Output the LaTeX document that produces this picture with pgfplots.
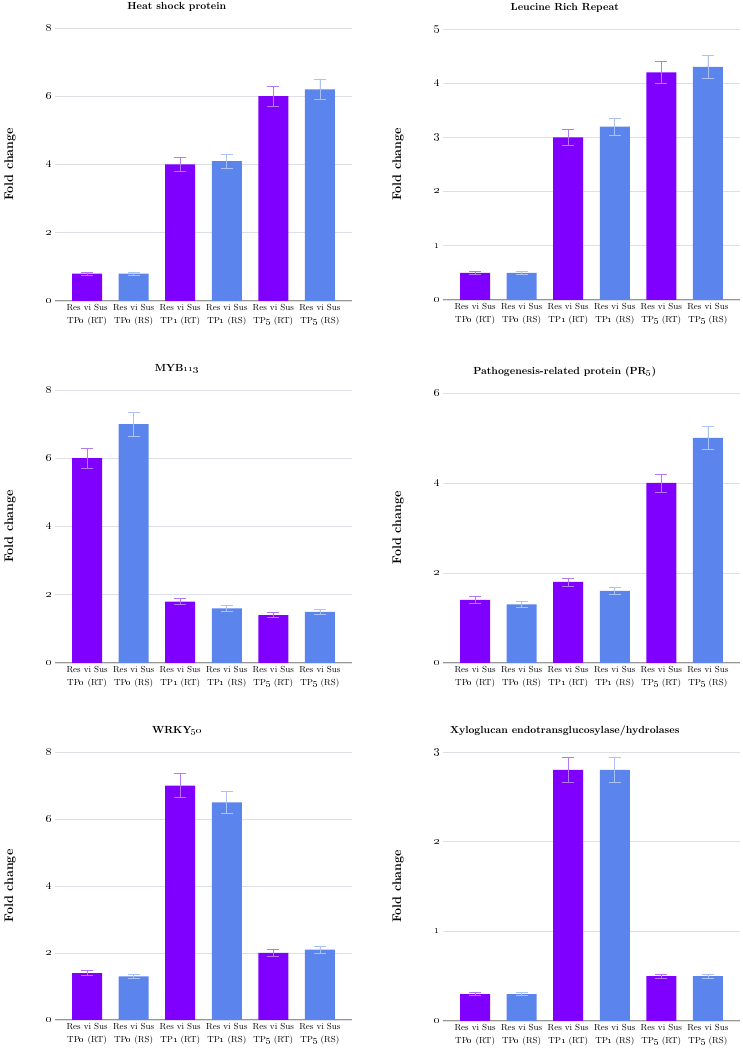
\documentclass[border=0pt]{standalone}
\usepackage{pgfplots}
\pgfplotsset{compat=1.18}
\definecolor{barpur}{RGB}{127,0,255}
\definecolor{barblu}{RGB}{91,133,236}
\definecolor{errpur}{RGB}{180,120,240}
\definecolor{errblu}{RGB}{172,194,245}
\definecolor{gridc}{RGB}{222,222,230}
\definecolor{basec}{RGB}{150,150,150}
\newcommand{\os}[1]{\oldstylenums{#1}}

\pgfplotsset{
  panel/.style={
    scale only axis, width=297pt,
    ybar, bar width=30pt, bar shift=0pt,
    xmin=-0.69, xmax=5.69, ymin=0,
    xtick={0,1,2,3,4,5},
    xticklabels={{Res vi Sus\\TP\os{0} (RT)},{Res vi Sus\\TP\os{0} (RS)},
                 {Res vi Sus\\TP\os{1} (RT)},{Res vi Sus\\TP\os{1} (RS)},
                 {Res vi Sus\\TP\os{5} (RT)},{Res vi Sus\\TP\os{5} (RS)}},
    xticklabel style={align=center, font=\fontsize{8.8}{12.5}\selectfont},
    yticklabel style={font=\fontsize{11}{13}\selectfont\bfseries},
    major tick length=0pt,
    axis x line*=bottom, axis y line*=left,
    x axis line style={draw=basec, line width=1pt, -},
    y axis line style={draw=none},
    ymajorgrids, grid style={draw=gridc, line width=0.8pt},
    ylabel={Fold change},
    ylabel style={at={(axis description cs:-0.1515,0.5)}, anchor=center,
                  font=\fontsize{12.5}{14}\selectfont\bfseries},
    title style={at={(axis description cs:0.41,1)}, anchor=center, yshift=15pt,
                 font=\fontsize{10.3}{12}\selectfont\bfseries},
    anchor=south west,
  },
  pur/.style={fill=barpur, draw=none,
    error bars/.cd, y dir=both, y explicit,
    error bar style={draw=errpur, line width=0.7pt},
    error mark options={rotate=90, mark size=6pt, draw=errpur, line width=0.7pt}},
  blu/.style={fill=barblu, draw=none,
    error bars/.cd, y dir=both, y explicit,
    error bar style={draw=errblu, line width=0.7pt},
    error mark options={rotate=90, mark size=6pt, draw=errblu, line width=0.7pt}},
}

\begin{document}
\begin{tikzpicture}
\useasboundingbox (0pt,0pt) rectangle (742pt,1048pt);

% Heat shock protein
\begin{axis}[panel, at={(55pt,747pt)}, height=273pt, ymax=8,
  ytick={0,2,4,6,8}, yticklabels={\os{0},\os{2},\os{4},\os{6},\os{8}},
  title={Heat shock protein}]
\addplot[pur] table[x=x, y=y, y error=e] {
x y e
0 0.8 0.04
2 4.0 0.2
4 6.0 0.3
};
\addplot[blu] table[x=x, y=y, y error=e] {
x y e
1 0.8 0.04
3 4.1 0.2
5 6.2 0.3
};
\end{axis}

% Leucine Rich Repeat
\begin{axis}[panel, at={(443pt,748pt)}, height=271pt, ymax=5,
  ytick={0,1,2,3,4,5}, yticklabels={\os{0},\os{1},\os{2},\os{3},\os{4},\os{5}},
  title={Leucine Rich Repeat}]
\addplot[pur] table[x=x, y=y, y error=e] {
x y e
0 0.5 0.025
2 3.0 0.15
4 4.2 0.21
};
\addplot[blu] table[x=x, y=y, y error=e] {
x y e
1 0.5 0.025
3 3.2 0.16
5 4.3 0.21
};
\end{axis}

% MYB113
\begin{axis}[panel, at={(55pt,385pt)}, height=273pt, ymax=8,
  ytick={0,2,4,6,8}, yticklabels={\os{0},\os{2},\os{4},\os{6},\os{8}},
  title={MYB\os{113}}]
\addplot[pur] table[x=x, y=y, y error=e] {
x y e
0 6.0 0.3
2 1.8 0.09
4 1.4 0.07
};
\addplot[blu] table[x=x, y=y, y error=e] {
x y e
1 7.0 0.35
3 1.6 0.08
5 1.5 0.075
};
\end{axis}

% Pathogenesis-related protein (PR5)
\begin{axis}[panel, at={(443pt,385pt)}, height=270pt, ymax=6,
  ytick={0,2,4,6}, yticklabels={\os{0},\os{2},\os{4},\os{6}},
  title={Pathogenesis-related protein (PR\os{5})}]
\addplot[pur] table[x=x, y=y, y error=e] {
x y e
0 1.4 0.07
2 1.8 0.09
4 4.0 0.2
};
\addplot[blu] table[x=x, y=y, y error=e] {
x y e
1 1.3 0.065
3 1.6 0.08
5 5.0 0.25
};
\end{axis}

% WRKY50
\begin{axis}[panel, at={(55pt,28pt)}, height=268pt, ymax=8,
  ytick={0,2,4,6,8}, yticklabels={\os{0},\os{2},\os{4},\os{6},\os{8}},
  title={WRKY\os{50}}]
\addplot[pur] table[x=x, y=y, y error=e] {
x y e
0 1.4 0.07
2 7.0 0.36
4 2.0 0.1
};
\addplot[blu] table[x=x, y=y, y error=e] {
x y e
1 1.3 0.065
3 6.5 0.33
5 2.1 0.1
};
\end{axis}

% Xyloglucan endotransglucosylase/hydrolases
\begin{axis}[panel, at={(443pt,27pt)}, height=269pt, ymax=3,
  ytick={0,1,2,3}, yticklabels={\os{0},\os{1},\os{2},\os{3}},
  title={Xyloglucan endotransglucosylase/hydrolases}]
\addplot[pur] table[x=x, y=y, y error=e] {
x y e
0 0.3 0.015
2 2.8 0.14
4 0.5 0.025
};
\addplot[blu] table[x=x, y=y, y error=e] {
x y e
1 0.3 0.015
3 2.8 0.14
5 0.5 0.025
};
\end{axis}
\end{tikzpicture}
\end{document}
